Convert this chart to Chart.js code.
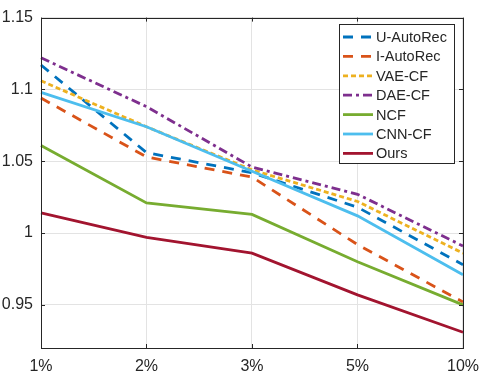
<!DOCTYPE html>
<html>
<head>
<meta charset="utf-8">
<script src="https://cdn.jsdelivr.net/npm/chart.js@4/dist/chart.umd.min.js"></script>
<style>
html,body{margin:0;padding:0;background:#fff;}
#wrap{width:488px;height:372px;position:relative;}
</style>
</head>
<body>
<div id="wrap"><canvas id="c" width="488" height="372"></canvas></div>
<script>
const categories = ['1%', '2%', '3%', '5%', '10%'];
const yTicks = [0.95, 1.0, 1.05, 1.1, 1.15];
const seriesNames = ['U-AutoRec', 'I-AutoRec', 'VAE-CF', 'DAE-CF', 'NCF', 'CNN-CF', 'Ours'];
const uAutoRec = [1.117, 1.056, 1.042, 1.018, 0.978];
const iAutoRec = [1.094, 1.053, 1.039, 0.992, 0.952];
const vaeCF    = [1.106, 1.074, 1.044, 1.022, 0.986];
const daeCF    = [1.122, 1.088, 1.046, 1.027, 0.991];
const ncf      = [1.061, 1.021, 1.013, 0.980, 0.950];
const cnnCF    = [1.098, 1.074, 1.043, 1.012, 0.971];
const ours     = [1.014, 0.997, 0.986, 0.957, 0.931];

const seriesData = [uAutoRec, iAutoRec, vaeCF, daeCF, ncf, cnnCF, ours];
const colors = ['#0072BD', '#D95319', '#EDB120', '#7E2F8E', '#77AC30', '#4DBEEE', '#A2142F'];
const dashes = [[10, 8], [10, 8], [5, 3], [9, 4, 3, 4], [], [], []];

const FONT = '"Liberation Sans", Arial, Helvetica, sans-serif';
const AXIS = '#262626';

const datasets = seriesNames.map((n, i) => ({
  label: n,
  data: seriesData[i],
  borderColor: colors[i],
  backgroundColor: colors[i],
  borderWidth: 2.8,
  borderDash: dashes[i],
  pointRadius: 0,
  tension: 0,
  fill: false,
  order: seriesNames.length - i
}));

const framePlugin = {
  id: 'frame',
  afterDatasetsDraw(chart) {
    const ctx = chart.ctx, a = chart.chartArea;
    ctx.save();
    ctx.strokeStyle = AXIS;
    ctx.lineWidth = 1;
    ctx.strokeRect(Math.round(a.left) + 0.5, Math.round(a.top) + 0.5, Math.round(a.right - a.left), Math.round(a.bottom - a.top));
    // inward ticks
    const xs = chart.scales.x, ys = chart.scales.y;
    const L = 4;
    ctx.beginPath();
    xs.ticks.forEach((t, i) => {
      const px = Math.round(xs.getPixelForTick(i)) + 0.5;
      ctx.moveTo(px, a.bottom); ctx.lineTo(px, a.bottom - L);
      ctx.moveTo(px, a.top); ctx.lineTo(px, a.top + L);
    });
    ys.ticks.forEach((t, i) => {
      const py = Math.round(ys.getPixelForValue(t.value)) + 0.5;
      ctx.moveTo(a.left, py); ctx.lineTo(a.left + L, py);
      ctx.moveTo(a.right, py); ctx.lineTo(a.right - L, py);
    });
    ctx.stroke();
    ctx.restore();
  }
};

const legendPlugin = {
  id: 'boxLegend',
  afterDraw(chart) {
    const ctx = chart.ctx, a = chart.chartArea;
    const w = 115, h = 139;
    const bx = Math.round(a.right - 9 - w), by = Math.round(a.top + 6);
    ctx.save();
    ctx.fillStyle = '#fff';
    ctx.fillRect(bx, by, w, h);
    ctx.strokeStyle = AXIS;
    ctx.lineWidth = 1;
    ctx.strokeRect(bx + 0.5, by + 0.5, w, h);
    ctx.font = '14.5px ' + FONT;
    ctx.textBaseline = 'middle';
    chart.data.datasets.forEach((ds, i) => {
      const cy = by + 13 + i * 19.4;
      ctx.beginPath();
      ctx.strokeStyle = ds.borderColor;
      ctx.lineWidth = ds.borderWidth;
      ctx.setLineDash(ds.borderDash || []);
      ctx.moveTo(bx + 4, cy); ctx.lineTo(bx + 34, cy);
      ctx.stroke();
      ctx.setLineDash([]);
      ctx.fillStyle = AXIS;
      ctx.fillText(ds.label, bx + 37, cy + 1);
    });
    ctx.restore();
  }
};

new Chart(document.getElementById('c'), {
  type: 'line',
  data: { labels: categories, datasets },
  options: {
    responsive: false,
    animation: false,
    devicePixelRatio: 1,
    layout: { padding: { top: 9, right: 16, left: 0, bottom: 0 } },
    plugins: { legend: { display: false }, tooltip: { enabled: false } },
    scales: {
      x: {
        type: 'category',
        offset: false,
        grid: { color: '#e3e3e3', lineWidth: 1, drawTicks: false },
        border: { display: false },
        ticks: { color: AXIS, font: { family: FONT, size: 16 }, padding: 9, maxRotation: 0, autoSkip: false },
        afterFit(s) { s.height = 24; }
      },
      y: {
        min: 0.92, max: 1.15,
        grid: { color: '#e3e3e3', lineWidth: 1, drawTicks: false },
        border: { display: false },
        afterBuildTicks(s) { s.ticks = yTicks.map(v => ({ value: v })); },
        ticks: {
          color: AXIS, font: { family: FONT, size: 16 }, padding: 8,
          callback: (v) => String(Number(Number(v).toFixed(2)))
        },
        afterFit(s) { s.width = 41; }
      }
    }
  },
  plugins: [framePlugin, legendPlugin]
});
</script>
</body>
</html>
